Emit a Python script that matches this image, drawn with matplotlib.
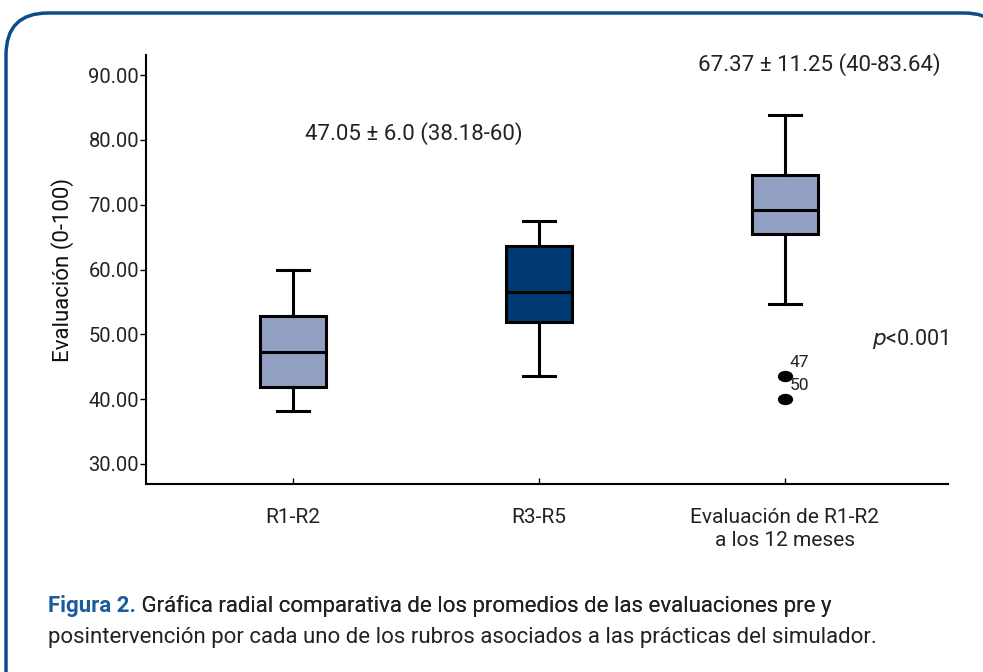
import matplotlib.pyplot as plt
from matplotlib.patches import FancyBboxPatch
from matplotlib.path import Path
from matplotlib.transforms import Affine2D

plt.rcParams['font.family'] = ['Roboto', 'DejaVu Sans']

# Data
groups = ['R1-R2', 'R3-R5', 'Evaluación de R1-R2\na los 12 meses']
whis_lo = [38.18, 43.6, 54.7]
q1 = [41.9, 51.9, 65.5]
medians = [47.3, 56.5, 69.2]
q3 = [52.8, 63.6, 74.6]
whis_hi = [60.0, 67.5, 83.8]
outliers = [[], [], [43.6, 40.0]]
outlier_ids = [[], [], ['47', '50']]
box_colors = ['#919fc3', '#003a75', '#919fc3']

stats = []
for i in range(len(groups)):
    stats.append(dict(label=groups[i], whislo=whis_lo[i], q1=q1[i], med=medians[i],
                      q3=q3[i], whishi=whis_hi[i], fliers=outliers[i]))

fig = plt.figure(figsize=(9.83, 6.72), dpi=100)

# rounded frame around the whole figure
frame = fig.add_axes([0, 0, 1, 1])
frame.set_xlim(0, 983)
frame.set_ylim(672, 0)
frame.axis('off')
frame.add_patch(FancyBboxPatch((6, 13), 1000, 700, boxstyle='round,pad=0,rounding_size=42',
                               fc='white', ec='#0d4c8b', lw=2.5))

ax = fig.add_axes([0.1485, 0.2798, 0.8159, 0.6382])

# ellipse marker for outliers
oval = Path.unit_circle().transformed(Affine2D().scale(1.4, 1.0))

bp = ax.bxp(stats, positions=[1, 2, 3], widths=0.27, patch_artist=True,
            capwidths=0.13,
            boxprops=dict(lw=2.2, ec='black'),
            medianprops=dict(color='black', lw=2.2),
            whiskerprops=dict(color='black', lw=2.2),
            capprops=dict(color='black', lw=2.2),
            flierprops=dict(marker=oval, markersize=10, markerfacecolor='black',
                            markeredgecolor='black'))
for patch, c in zip(bp['boxes'], box_colors):
    patch.set_facecolor(c)

for i, (vals, ids) in enumerate(zip(outliers, outlier_ids)):
    for v, s in zip(vals, ids):
        ax.text(i + 1 + 0.02, v + 0.9, s, fontsize=12.5, ha='left', va='bottom',
                color='#222222')

ax.set_xlim(0.402, 3.663)
ax.set_ylim(26.9, 93.1)
ax.set_yticks([30, 40, 50, 60, 70, 80, 90])
ax.set_yticklabels(['%.2f' % v for v in [30, 40, 50, 60, 70, 80, 90]])
ax.tick_params(axis='y', labelsize=14.5, length=4, width=1, pad=1, labelcolor='#222222')
ax.tick_params(axis='x', labelsize=15, length=4, width=1, direction='in', pad=17,
               labelcolor='#222222')
for lbl in ax.get_xticklabels():
    lbl.set_linespacing(1.3)
ax.set_ylabel('Evaluación (0-100)', fontsize=16, labelpad=10, color='#111111')
for s in ['top', 'right']:
    ax.spines[s].set_visible(False)
ax.spines['left'].set_linewidth(1.5)
ax.spines['bottom'].set_linewidth(1.5)

ax.text(1.49, 81.05, '47.05 ± 6.0 (38.18-60)', fontsize=16, ha='center', va='center',
        color='#222222')
ax.text(3.14, 91.6, '67.37 ± 11.25 (40-83.64)', fontsize=16, ha='center', va='center',
        color='#222222')
ax.text(3.663, 49.3, r'$\it{p}$<0.001', fontsize=15.5, ha='right', va='center',
        color='#222222')

# caption
t1 = fig.text(48 / 983, 1 - 606 / 672, 'Figura 2.', fontsize=16, fontweight='bold',
              color='#1a5c9e', va='center')
fig.texts.append(frame.annotate(' Gráfica radial comparativa de los promedios de las evaluaciones pre y',
                                xy=(1, 0), xycoords=t1, va='bottom', fontsize=16, color='#222222'))
fig.text(48 / 983, 1 - 637 / 672,
         'posintervención por cada uno de los rubros asociados a las prácticas del simulador.',
         fontsize=16, color='#222222', va='center')

fig.savefig('out.png', dpi=100)
